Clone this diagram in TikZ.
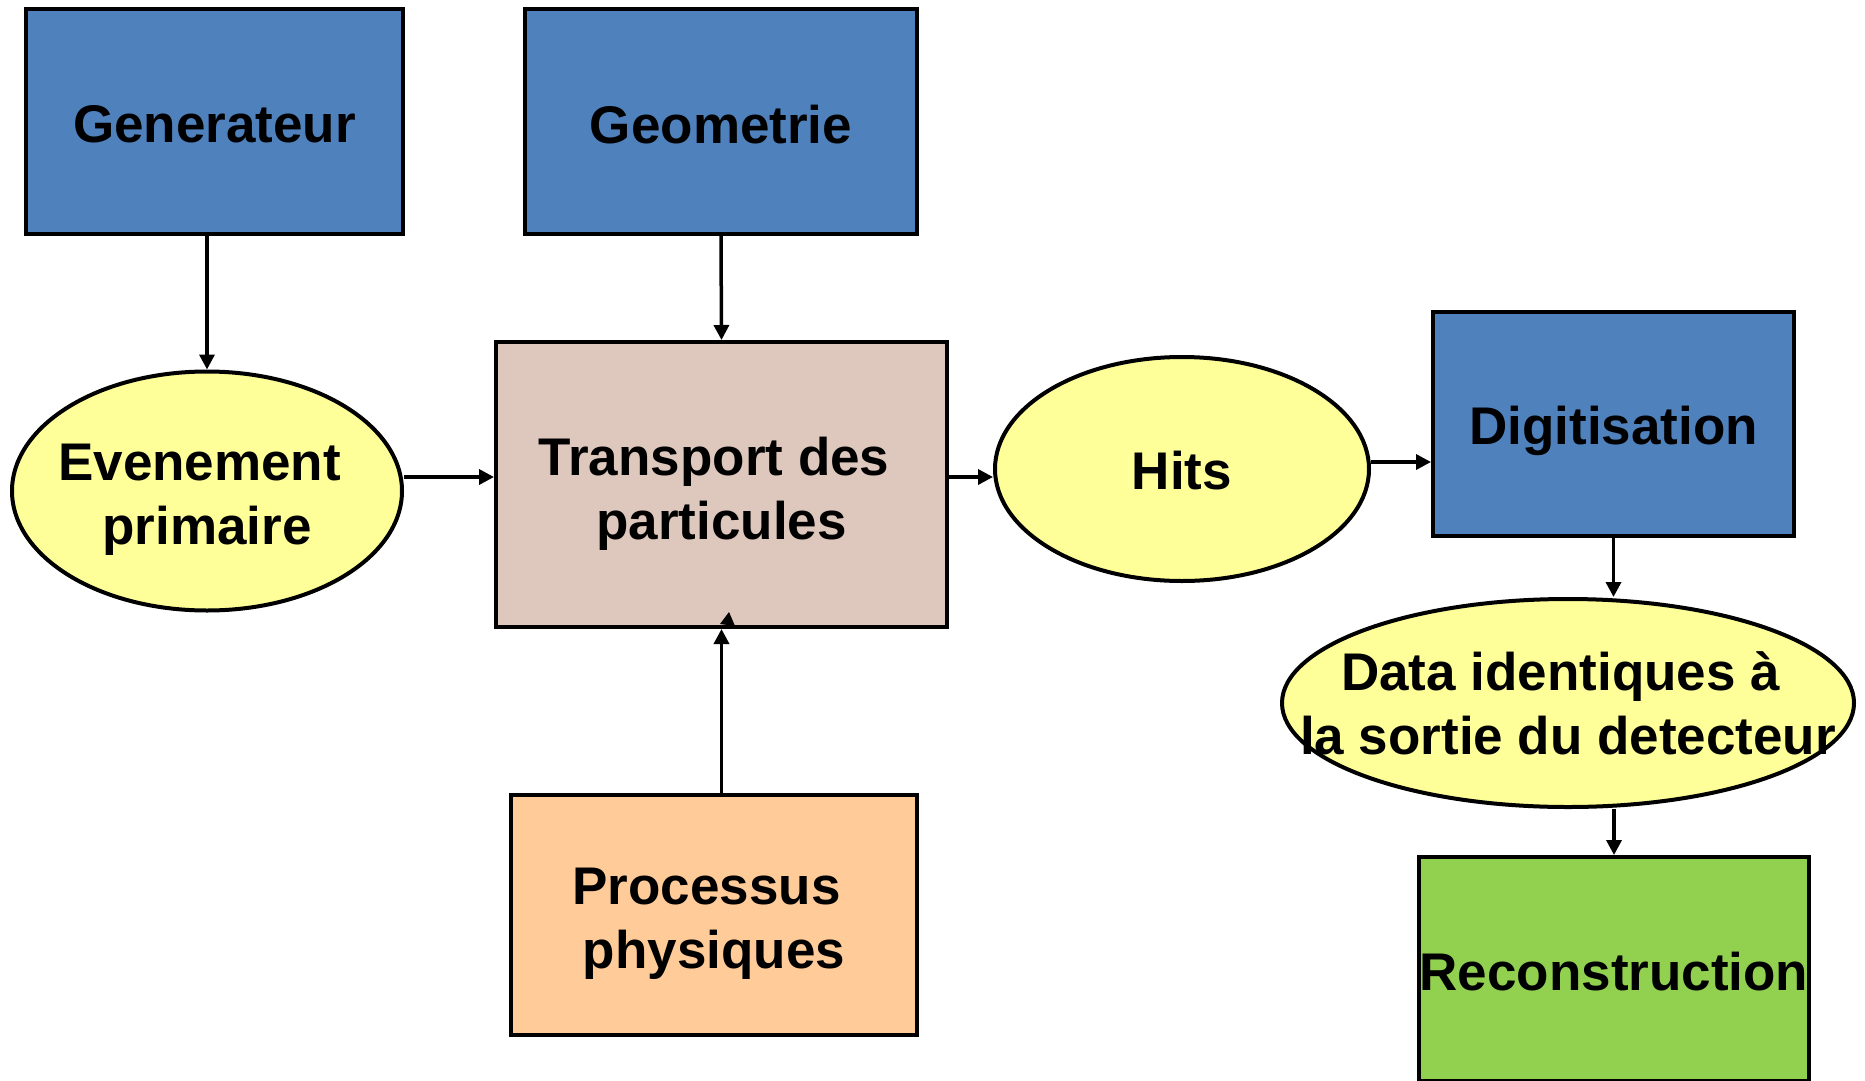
\documentclass[tikz,border=0pt]{standalone}
\usepackage{fontspec}
\setmainfont{Liberation Sans}
\usetikzlibrary{shapes.geometric,arrows.meta}
\definecolor{blockblue}{HTML}{4F81BD}
\definecolor{transportfill}{HTML}{DEC7BC}
\definecolor{processfill}{HTML}{FFCC99}
\definecolor{recofill}{HTML}{92D050}
\definecolor{datafill}{HTML}{FFFF99}
\newcommand{\trail}{\hspace*{0.278em}}
\tikzset{
  lbl/.style={font=\fontsize{53}{64}\selectfont\bfseries, align=center, text=black, inner sep=0pt},
  blockbox/.style={draw=black, line width=4pt, rectangle, inner sep=0pt},
  dataellipse/.style={draw=black, line width=4pt, ellipse, inner sep=0pt, fill=datafill},
  arr/.style={draw=black, line width=3.5pt, -{Triangle[length=15pt,width=15pt]}}
}
\begin{document}
\begin{tikzpicture}[x=1pt,y=-1pt]
  \useasboundingbox (0,0) rectangle (1865,1081);

  % input blocks
  \node[blockbox, fill=blockblue, minimum width=377pt, minimum height=225pt] (gen) at (214.5,121.5) {};
  \node[blockbox, fill=blockblue, minimum width=392pt, minimum height=225pt] (geo) at (721,121.5) {};

  % simulation core
  \node[blockbox, fill=transportfill, minimum width=451pt, minimum height=285pt] (tr) at (721.5,484.5) {};
  \node[blockbox, fill=processfill, minimum width=406pt, minimum height=240pt] (proc) at (714,915) {};

  % data products
  \node[dataellipse, minimum width=390pt, minimum height=239pt] (ev) at (207,491) {};
  \node[dataellipse, minimum width=374pt, minimum height=224pt] (hits) at (1182,469) {};
  \node[blockbox, fill=blockblue, minimum width=361pt, minimum height=224pt] (dig) at (1613.5,424) {};
  \node[dataellipse, minimum width=572pt, minimum height=208pt] (data) at (1568,703) {};
  \node[blockbox, fill=recofill, minimum width=390pt, minimum height=224pt] (rec) at (1614,969) {};

  % labels
  \node[lbl, yshift=-3pt] (gen-t) at (gen.center) {Generateur};
  \node[lbl, yshift=-3pt] (geo-t) at (geo.center) {Geometrie};
  \node[lbl, yshift=-9pt] (tr-t) at (tr.center) {Transport des\trail\\particules};
  \node[lbl, yshift=-9pt] (proc-t) at (proc.center) {Processus\trail\\physiques};
  \node[lbl, yshift=-9pt] (ev-t) at (ev.center) {Evenement\trail\\primaire};
  \node[lbl, yshift=-1.5pt] (hits-t) at (hits.center) {Hits};
  \node[lbl, yshift=-7pt] (dig-t) at (dig.center) {Digitisation};
  \node[lbl, yshift=-0.5pt] (data-t) at (data.center) {Data identiques à\trail\\la sortie du detecteur};
  \node[lbl, yshift=-2.5pt] (rec-t) at (rec.center) {Reconstruction};

  % flow
  \draw[arr] (ev.north |- gen.south) -- (ev.north);
  \draw[arr] (geo.south) -- (tr.north);
  \draw[arr] (ev.east |- 0,477) -- (tr.west |- 0,477);
  \draw[arr] (tr.east |- 0,477) -- (hits.west |- 0,477);
  \draw[arr] (tr.south |- proc.north) -- (tr.south);
  \draw[arr] (hits.east |- 0,462) -- (dig.west |- 0,462);
  \draw[arr] (dig.south) -- (dig.south |- data.north);
  \draw[arr] (rec.north |- data.south) -- (rec.north);

  % small arrow tip left inside the transport block
  \fill[black] (729,612) -- (720,624) -- (735,626) -- cycle;
\end{tikzpicture}
\end{document}
